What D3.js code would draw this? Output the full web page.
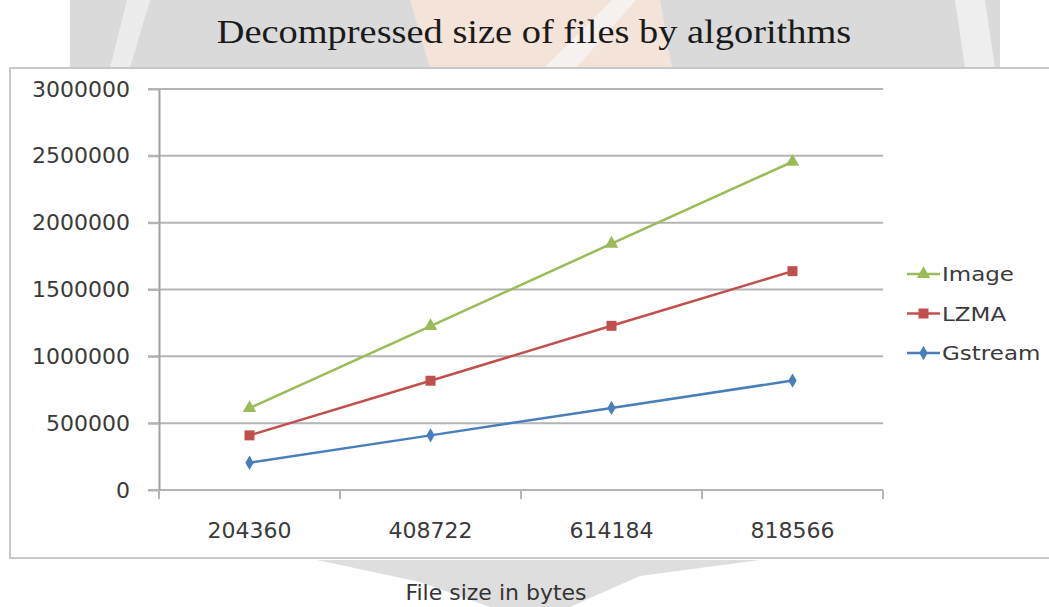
<!DOCTYPE html>
<html>
<head>
<meta charset="utf-8">
<script src="https://cdn.jsdelivr.net/npm/d3@7"></script>
<style>
  html, body { margin: 0; padding: 0; background: #fff; }
  svg { display: block; }
</style>
</head>
<body>
<div id="container"></div>
<script>
// data
const fileSizes = ["204360", "408722", "614184", "818566"];
const imageValues = [613080, 1226166, 1842552, 2455698];
const lzmaValues = [408720, 817444, 1228368, 1637132];
const gstreamValues = [204360, 408722, 614184, 818566];
const yTicks = [0, 500000, 1000000, 1500000, 2000000, 2500000, 3000000];
const seriesNames = ["Image", "LZMA", "Gstream"];

window.onload = () => {
    const width = 1049, height = 607;
    const svg = d3.select("#container").append("svg")
        .attr("width", width)
        .attr("height", height);

    // faded watermark behind the chart
    const wm = svg.append("g");
    wm.append("polygon").attr("points", "70,0 1000,0 1000,68 70,68").attr("fill", "#dadada");
    wm.append("polygon").attr("points", "127,0 150,0 130,68 110,68").attr("fill", "#ececec");
    wm.append("polygon").attr("points", "410,0 660,0 672,68 430,68").attr("fill", "#f3e3d8");
    wm.append("polygon").attr("points", "612,0 636,0 576,68 544,68").attr("fill", "#f6f1ee");
    wm.append("polygon").attr("points", "955,0 985,0 995,68 965,68").attr("fill", "#eeeeee");
    wm.append("polygon").attr("points", "317,560 760,560 640,576 570,607 490,607 420,582").attr("fill", "#dedede");

    // chart box
    svg.append("rect")
        .attr("x", 10).attr("y", 68)
        .attr("width", 1060).attr("height", 490)
        .attr("fill", "#fff")
        .attr("stroke", "#c8c8c8")
        .attr("stroke-width", 2);

    // title
    svg.append("text")
        .attr("transform", "translate(534,43) scale(1.13,1)")
        .attr("text-anchor", "middle")
        .attr("font-family", "'Liberation Serif', serif")
        .attr("font-size", 34)
        .attr("fill", "#1a1a1a")
        .text("Decompressed size of files by algorithms");

    const x = d3.scaleBand().domain(fileSizes).range([159, 883]).padding(0);
    const y = d3.scaleLinear().domain([0, 3000000]).range([490, 89]);

    // gridlines (zero line included)
    svg.append("g").selectAll("line").data(yTicks).join("line")
        .attr("x1", 148).attr("x2", 883)
        .attr("y1", d => y(d)).attr("y2", d => y(d))
        .attr("stroke", "#b4b4b4")
        .attr("stroke-width", 2);

    // y axis
    const yAxis = svg.append("g")
        .attr("transform", "translate(159,0)")
        .call(d3.axisLeft(y).tickValues(yTicks).tickFormat(d3.format("d")).tickSize(11).tickPadding(18).tickSizeOuter(0));
    yAxis.select(".domain").attr("stroke", "#a0a0a0").attr("stroke-width", 2);
    yAxis.selectAll(".tick line").attr("stroke", "#b4b4b4").attr("stroke-width", 2);
    yAxis.selectAll("text")
        .attr("font-family", "'DejaVu Sans', sans-serif")
        .attr("font-size", 22)
        .attr("fill", "#3a3a3a");

    // x axis: labels at band centres, ticks at band edges
    const xAxis = svg.append("g")
        .attr("transform", "translate(0,490)")
        .call(d3.axisBottom(x).tickSize(0).tickPadding(32));
    xAxis.select(".domain").remove();
    xAxis.selectAll("text")
        .attr("font-family", "'DejaVu Sans', sans-serif")
        .attr("font-size", 22)
        .attr("fill", "#3a3a3a");
    const edges = fileSizes.map(d => x(d)).concat([x.range()[1]]);
    svg.append("g").selectAll("line").data(edges).join("line")
        .attr("x1", d => d).attr("x2", d => d)
        .attr("y1", 490).attr("y2", 499)
        .attr("stroke", "#b4b4b4")
        .attr("stroke-width", 2);

    // axis title
    svg.append("text")
        .attr("x", 496).attr("y", 600)
        .attr("text-anchor", "middle")
        .attr("font-family", "'DejaVu Sans', sans-serif")
        .attr("font-size", 22)
        .attr("fill", "#333")
        .text("File size in bytes");

    const series = [
        { name: "Image", values: imageValues, color: "#9bbb59", symbol: d3.symbolTriangle, size: 80 },
        { name: "LZMA", values: lzmaValues, color: "#c0504d", symbol: d3.symbolSquare, size: 100 },
        { name: "Gstream", values: gstreamValues, color: "#4a7ebb", symbol: d3.symbolDiamond, size: 60 }
    ];

    const cx = d => x(d) + x.bandwidth() / 2;
    const line = d3.line().x(d => cx(d[0])).y(d => y(d[1]));

    series.forEach(s => {
        const pts = fileSizes.map((f, i) => [f, s.values[i]]);
        svg.append("path")
            .attr("d", line(pts))
            .attr("fill", "none")
            .attr("stroke", s.color)
            .attr("stroke-width", 2.5);
        svg.append("g").selectAll("path").data(pts).join("path")
            .attr("d", d3.symbol().type(s.symbol).size(s.size))
            .attr("transform", d => `translate(${cx(d[0])},${y(d[1])})`)
            .attr("fill", s.color);
    });

    // legend
    const legend = svg.append("g").selectAll("g").data(series).join("g")
        .attr("transform", (d, i) => `translate(907,${274 + i * 39.5})`);
    legend.append("line")
        .attr("x1", 0).attr("x2", 33)
        .attr("stroke", d => d.color)
        .attr("stroke-width", 2.5);
    legend.append("path")
        .attr("d", d => d3.symbol().type(d.symbol).size(d.size)())
        .attr("transform", "translate(16.5,0)")
        .attr("fill", d => d.color);
    legend.append("text")
        .attr("transform", "translate(35,0) scale(1.15,1)")
        .attr("dy", "0.36em")
        .attr("font-family", "'DejaVu Sans', sans-serif")
        .attr("font-size", 20)
        .attr("fill", "#3a3a3a")
        .text(d => d.name);
};
</script>
</body>
</html>
